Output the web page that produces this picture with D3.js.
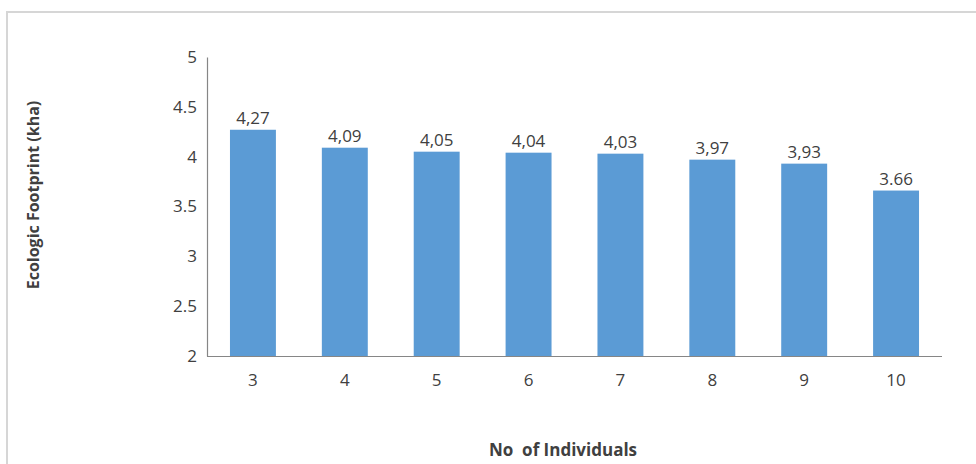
<!DOCTYPE html>
<html>
<head>
<meta charset="utf-8">
<script src="https://cdn.jsdelivr.net/npm/d3@7"></script>
<style>
  html, body { margin: 0; padding: 0; background: #ffffff; }
  svg { display: block; }
  text { font-family: "Open Sans", Lato, "Liberation Sans", sans-serif; fill: #404040; }
</style>
</head>
<body>
<svg id="chart" width="976" height="464"></svg>
<script>
// Household size and the ecological footprint per household
const categories = ["3", "4", "5", "6", "7", "8", "9", "10"];
const footprint = [4.27, 4.09, 4.05, 4.04, 4.03, 3.97, 3.93, 3.66];
const valueLabels = ["4,27", "4,09", "4,05", "4,04", "4,03", "3,97", "3,93", "3.66"];
const yTicks = [2, 2.5, 3, 3.5, 4, 4.5, 5];
const yTickLabels = ["2", "2.5", "3", "3.5", "4", "4.5", "5"];

const svg = d3.select("#chart");

// chart frame
svg.append("path")
  .attr("d", "M7,980 L7,12 L980,12")
  .attr("fill", "none")
  .attr("stroke", "#d6d6d6")
  .attr("stroke-width", 2);

const plotLeft = 207, plotRight = 942, plotTop = 57, plotBottom = 356;

const x = d3.scaleBand().domain(categories).range([plotLeft, plotRight]).paddingInner(0.5).paddingOuter(0.25);
const y = d3.scaleLinear().domain([2, 5]).range([plotBottom, plotTop]);

// bars
svg.append("g").selectAll("rect")
  .data(footprint)
  .join("rect")
  .attr("x", (d, i) => x(categories[i]))
  .attr("y", d => y(d))
  .attr("width", x.bandwidth())
  .attr("height", d => y(2) - y(d))
  .attr("fill", "#5b9bd5");

// value labels
svg.append("g").selectAll("text")
  .data(footprint)
  .join("text")
  .attr("x", (d, i) => x(categories[i]) + x.bandwidth() / 2)
  .attr("y", d => y(d) - 6)
  .attr("text-anchor", "middle")
  .attr("font-size", 17)
  .attr("fill", "#404040")
  .text((d, i) => valueLabels[i]);

// y axis
const yAxis = d3.axisLeft(y).tickValues(yTicks)
  .tickFormat((d, i) => yTickLabels[i]).tickSize(0).tickPadding(10);
const gy = svg.append("g").attr("transform", `translate(${plotLeft},0)`).call(yAxis);
gy.select(".domain").attr("stroke", "#868686").attr("stroke-width", 1.2);
gy.selectAll("text").attr("font-size", 17).attr("fill", "#404040").attr("font-family", null);

// x axis
const xAxis = d3.axisBottom(x).tickSize(0).tickPadding(18);
const gx = svg.append("g").attr("transform", `translate(0,${plotBottom})`).call(xAxis);
gx.select(".domain").attr("d", `M${plotLeft},0.5H${plotRight}`).attr("stroke", "#868686").attr("stroke-width", 1.2);
gx.selectAll("text").attr("font-size", 17).attr("fill", "#404040").attr("font-family", null);

// axis titles
svg.append("text")
  .attr("x", 563).attr("y", 456)
  .attr("text-anchor", "middle")
  .attr("font-size", 17).attr("font-weight", "bold").attr("fill", "#1a1a1a")
  .attr("xml:space", "preserve")
  .text("No  of Individuals");

svg.append("text")
  .attr("transform", "translate(39,195) rotate(-90)")
  .attr("text-anchor", "middle")
  .attr("font-size", 16).attr("font-weight", "bold").attr("fill", "#1a1a1a")
  .text("Ecologic Footprint (kha)");
</script>
</body>
</html>
